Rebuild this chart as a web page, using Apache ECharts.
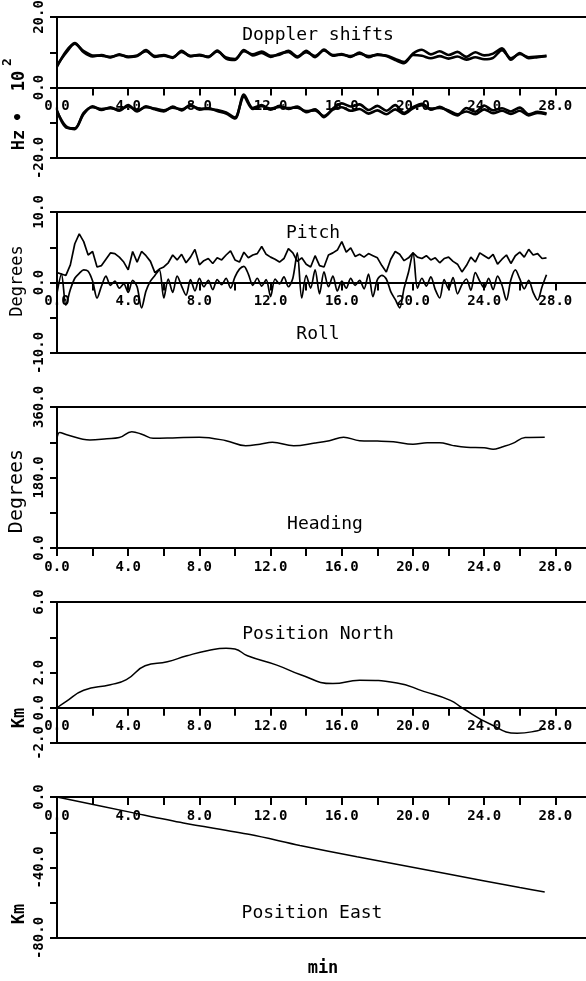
<!DOCTYPE html>
<html>
<head>
<meta charset="utf-8">
<script src="https://cdn.jsdelivr.net/npm/echarts@6/dist/echarts.min.js"></script>
<style>
  html, body { margin: 0; padding: 0; background: #fff; }
  #chart { width: 586px; height: 981px; }
</style>
</head>
<body>
<div id="chart"></div>
<script>
// Sampling interval (minutes) of the evenly sampled records
const DOPPLER_STEP = 0.5;
const ATTITUDE_STEP = 0.25;

// Doppler shifts (Hz * 10^2): two receivers, upper and lower beams
const dopplerUpperA = [5.9,10.2,12.6,10.0,8.8,9.2,8.5,9.4,8.6,8.9,10.6,8.7,9.0,8.4,10.4,8.8,9.3,8.6,10.5,8.2,7.8,10.6,9.1,9.8,8.7,9.6,10.1,8.5,10.4,8.6,10.8,9.0,9.5,8.7,9.9,8.6,9.4,8.9,7.8,6.9,9.6,10.7,9.4,10.3,9.2,10.1,8.7,10.0,9.1,9.6,11.1,7.9,9.8,8.3,8.6,8.9];
const dopplerUpperB = [6.3,9.8,12.4,10.3,9.1,9.0,8.7,9.2,8.8,9.1,10.3,8.9,9.2,8.6,10.1,9.0,9.1,8.8,10.2,8.5,8.1,10.3,9.4,10.2,9.0,9.3,10.4,8.8,10.0,8.9,10.5,9.2,9.3,8.9,9.6,8.9,9.2,9.1,8.1,7.2,9.2,9.0,8.3,8.9,8.2,8.8,7.9,8.6,8.0,8.4,10.6,8.3,9.5,8.6,8.8,9.0];
const dopplerLowerA = [-6.5,-11.3,-11.6,-7.5,-5.3,-6.4,-5.6,-6.6,-5.0,-6.8,-5.3,-6.2,-6.8,-5.4,-6.5,-4.9,-6.3,-5.8,-6.7,-7.4,-8.8,-2.0,-5.8,-5.0,-6.3,-5.2,-6.1,-5.4,-7.0,-6.2,-8.4,-6.0,-4.5,-5.4,-4.8,-6.4,-5.2,-6.6,-5.0,-7.2,-5.6,-4.6,-6.3,-5.5,-6.8,-7.9,-5.8,-6.9,-5.1,-6.5,-5.9,-6.8,-5.7,-7.6,-6.9,-7.4];
const dopplerLowerB = [-6.8,-11.0,-11.8,-7.2,-5.6,-6.1,-5.9,-6.3,-5.3,-6.5,-5.6,-6.0,-6.5,-5.7,-6.2,-5.2,-6.0,-6.1,-6.4,-7.1,-8.5,-2.6,-6.1,-5.3,-6.0,-5.5,-5.8,-5.7,-6.7,-6.5,-8.1,-6.3,-5.6,-6.6,-6.1,-7.4,-6.5,-7.6,-6.2,-7.5,-5.9,-5.0,-6.0,-5.8,-6.5,-7.6,-6.8,-7.6,-6.2,-7.3,-6.6,-7.5,-6.6,-7.9,-7.2,-7.6];

// Attitude (degrees)
const pitch = [1.4,1.2,1.0,2.5,5.5,6.9,5.8,3.9,4.4,2.2, 2.4,3.3,4.2,4.1,3.6,2.9,1.8,4.4,2.9,4.4, 3.8,3.0,1.4,1.9,2.2,2.8,3.9,3.2,4.0,2.8, 3.6,4.7,2.5,3.1,3.4,2.7,3.5,3.2,3.9,4.5, 3.2,2.9,4.3,3.5,3.9,4.1,5.1,4.0,3.6,3.3, 2.9,3.4,4.8,4.2,3.0,3.5,2.6,2.2,3.8,2.4, 2.2,3.9,4.2,4.6,5.8,4.3,4.9,3.7,4.0,3.6, 4.1,3.8,3.5,2.4,1.5,3.3,4.4,4.0,3.1,3.5, 4.2,3.6,3.4,3.8,3.2,3.5,2.8,3.4,3.6,3.0, 2.6,1.5,2.4,3.6,2.9,4.2,3.8,3.4,4.0,2.6, 3.3,3.9,2.7,3.8,4.3,3.6,4.7,3.9,4.1,3.4, 3.5];
const roll = [-1.5,1.2,-3.2,-1.0,0.6,1.3,1.8,1.6,0.2,-2.2, -0.5,0.9,-0.4,0.2,-0.8,-0.2,-1.4,0.3,-0.6,-3.6, -1.2,0.2,1.0,1.8,-2.2,0.5,-1.4,0.9,-0.5,-1.8, 0.4,-1.2,0.6,-0.6,0.3,-1.0,0.4,-0.3,0.6,-0.8, 0.8,1.9,2.3,1.2,-0.4,0.6,-0.5,0.4,-2.0,0.5, -0.2,0.8,-0.6,0.6,4.2,-2.2,1.0,-0.8,1.8,-1.6, 1.5,-0.6,0.9,-1.2,0.2,-0.8,0.6,-0.4,0.3,-0.9, 1.2,-2.0,0.4,1.0,0.5,-1.3,-2.4,-3.6,-0.8,1.5, 4.2,-0.8,0.6,-0.5,0.8,-1.0,-2.2,0.4,-0.9,0.7, -1.6,-0.3,0.5,-1.1,1.4,0.2,-0.8,0.6,-1.0,0.9, -0.4,-2.5,0.4,1.8,0.5,-0.9,0.3,-1.4,-2.5,-0.6, 1.1];

// Heading (degrees) as [minute, value]
const heading = [[0,278],[0.15,295],[0.55,289],[1.85,276],[2.8,279],[3.5,282],[4.2,297],[4.8,290],[5.4,280],[6.5,281],[8.0,283],[9.5,274],[10.6,261],[11.4,265],[12.1,270],[13.3,261],[14.5,268],[15.3,274],[16.1,283],[17.0,274],[18.0,273],[18.9,271],[20.0,265],[20.8,269],[21.5,269],[22.2,262],[23.0,257],[24.0,256],[24.5,252],[25.0,258],[25.6,267],[26.3,282],[27.4,283]];

// Position (km) as [minute, value]
const positionNorth = [[0,0],[0.5,0.35],[1.5,0.99],[3.0,1.31],[3.9,1.6],[4.95,2.38],[6.2,2.61],[7.3,2.95],[8.5,3.25],[9.5,3.38],[10.0,3.33],[10.7,2.95],[12.35,2.42],[13.65,1.89],[15.5,1.37],[17.0,1.56],[19.1,1.41],[20.6,0.93],[22.1,0.42],[22.75,0.0],[24.3,-0.91],[25.85,-1.45],[27.0,-1.3],[27.4,-1.16]];
const positionEast = [[0,0],[4.3,-9.0],[7.1,-14.7],[10.85,-21.3],[13.65,-27.5],[16.85,-33.9],[21.9,-43.5],[26,-51.4],[27.4,-53.9]];

// Time axis labels (minutes)
const timeLabels = [0, 4, 8, 12, 16, 20, 24, 28];

// Vertical axes: ranges, tick spacing and labelled values
const panelAxes = [
  { min: -20, max: 20,  step: 10, labels: [20, 0, -20] },
  { min: -10, max: 10,  step: 5,  labels: [10, 0, -10] },
  { min: 0,   max: 360, step: 90, labels: [360, 180, 0] },
  { min: -2,  max: 6,   step: 2,  labels: [6, 2, 0, -2] },
  { min: -80, max: 0,   step: 20, labels: [0, -40, -80] }
];

const gridTops = [17, 212, 407, 602, 797];
const GRID_HEIGHT = 141;
const MONO = '"DejaVu Sans Mono", "Liberation Mono", monospace';

function sampled(values, step) {
  return values.map((v, i) => [i * step, v]);
}

const grids = [], xAxes = [], yAxes = [];
panelAxes.forEach((ax, i) => {
  grids.push({
    left: 57, top: gridTops[i], width: 534, height: GRID_HEIGHT,
    outerBoundsMode: 'none', containLabel: false,
    show: true, borderColor: '#000', borderWidth: 2, backgroundColor: 'transparent'
  });
  // time axis drawn along the zero level of each panel
  const zeroShift = -GRID_HEIGHT * (0 - ax.min) / (ax.max - ax.min);
  xAxes.push({
    type: 'value', gridIndex: i, min: 0, max: 30, interval: 2,
    position: 'bottom', offset: zeroShift,
    axisLine: { show: true, onZero: false, lineStyle: { color: '#000', width: 2 } },
    axisTick: { show: true, inside: false, length: 8, lineStyle: { color: '#000', width: 2 } },
    axisLabel: {
      margin: 12, color: '#000', fontFamily: MONO, fontWeight: 'bold', fontSize: 14,
      showMinLabel: true, showMaxLabel: true, hideOverlap: false,
      formatter: v => timeLabels.includes(v) ? v.toFixed(1) : ''
    },
    splitLine: { show: false }
  });
  yAxes.push({
    type: 'value', gridIndex: i, min: ax.min, max: ax.max, interval: ax.step,
    axisLine: { show: true, onZero: false, lineStyle: { color: '#000', width: 2 } },
    axisTick: { show: true, inside: false, length: 7, lineStyle: { color: '#000', width: 2 } },
    axisLabel: {
      rotate: 90, margin: 11, color: '#000', fontFamily: MONO, fontWeight: 'bold', fontSize: 14,
      showMinLabel: true, showMaxLabel: true,
      formatter: v => ax.labels.includes(v) ? v.toFixed(1) : ''
    },
    splitLine: { show: false }
  });
});

function line(data, idx, width, smooth) {
  return {
    type: 'line', xAxisIndex: idx, yAxisIndex: idx, data: data,
    showSymbol: false, symbol: 'none', smooth: smooth || false,
    lineStyle: { color: '#000', width: width }, z: 3
  };
}

const series = [
  line(sampled(dopplerUpperA, DOPPLER_STEP), 0, 2.6, 0.3),
  line(sampled(dopplerUpperB, DOPPLER_STEP), 0, 2.6, 0.3),
  line(sampled(dopplerLowerA, DOPPLER_STEP), 0, 2.6, 0.3),
  line(sampled(dopplerLowerB, DOPPLER_STEP), 0, 2.6, 0.3),
  line(sampled(pitch, ATTITUDE_STEP), 1, 1.7),
  line(sampled(roll, ATTITUDE_STEP), 1, 1.7, 0.3),
  line(heading, 2, 1.5, 0.4),
  line(positionNorth, 3, 1.5, 0.5),
  line(positionEast, 4, 1.5, 0.3)
];

function label(text, x, y, size, opts) {
  opts = opts || {};
  return {
    type: 'text', x: x, y: y, rotation: opts.rotation || 0, z: 10,
    style: {
      text: text, fill: '#000', font: (opts.weight || 'normal') + ' ' + size + 'px ' + MONO,
      textAlign: 'center', textVerticalAlign: 'middle'
    }
  };
}
const R = Math.PI / 2;

const graphics = [
  label('Doppler shifts', 318, 35, 18),
  label('Pitch', 313, 233, 18),
  label('Roll', 318, 334, 18),
  label('Heading', 325, 524, 18),
  label('Position North', 318, 634, 18),
  label('Position East', 312, 913, 18),
  label('min', 323, 969, 17, { weight: 'bold' }),
  label('Hz', 20, 140, 17, { rotation: R, weight: 'bold' }),
  label('•', 20, 117, 17, { rotation: R, weight: 'bold' }),
  label('10', 20, 81, 17, { rotation: R, weight: 'bold' }),
  label('2', 8, 62, 13, { rotation: R, weight: 'bold' }),
  label('Degrees', 18, 281, 17, { rotation: R }),
  label('Degrees', 17, 491, 20, { rotation: R }),
  label('Km', 20, 718, 17, { rotation: R, weight: 'bold' }),
  label('Km', 20, 914, 17, { rotation: R, weight: 'bold' })
];

const chart = echarts.init(document.getElementById('chart'), null, { renderer: 'canvas' });
chart.setOption({
  animation: false,
  backgroundColor: '#fff',
  grid: grids,
  xAxis: xAxes,
  yAxis: yAxes,
  series: series,
  graphic: graphics
});
</script>
</body>
</html>
